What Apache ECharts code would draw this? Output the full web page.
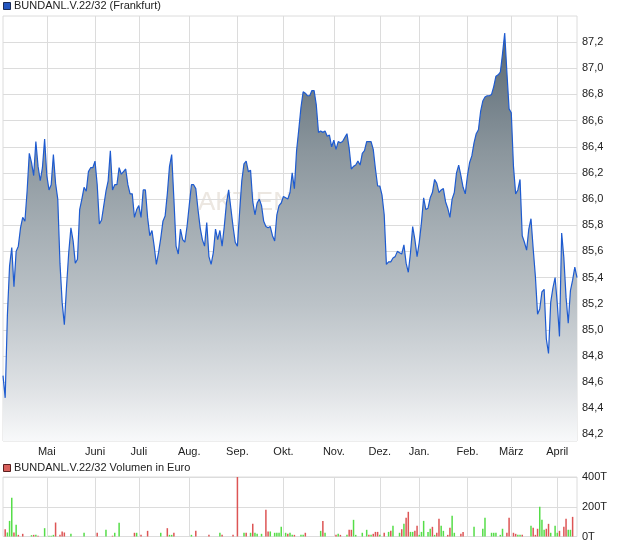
<!DOCTYPE html>
<html><head><meta charset="utf-8">
<script src="https://cdn.jsdelivr.net/npm/echarts@6/dist/echarts.min.js"></script>
<style>html,body{margin:0;padding:0;background:#fff}#c{width:620px;height:546px}</style>
</head><body><div id="c"></div>
<script>
// ---- categories: Frankfurt trading days ----
const startDate = '2024-04-03';
const endDate = '2025-04-14';
const holidays = ['2024-05-01','2024-12-24','2024-12-25','2024-12-26','2024-12-31','2025-01-01'];
const monthNames = ['Jan.','Feb.','März','April','Mai','Juni','Juli','Aug.','Sep.','Okt.','Nov.','Dez.'];

// ---- price series (closing price) ----
const prices = [
84.65,84.48,85.11,85.49,85.63,85.33,85.60,85.64,85.78,85.86,
85.83,86.06,86.35,86.28,86.18,86.44,86.25,86.14,86.24,86.46,
86.18,86.07,86.11,86.34,86.12,86.00,85.51,85.21,85.04,85.33,
85.59,85.78,85.68,85.51,85.54,85.92,86.00,86.09,86.06,86.21,
86.24,86.24,86.29,86.11,85.81,85.84,85.95,86.06,86.14,86.37,
86.07,86.11,86.11,86.24,86.19,86.21,86.23,86.11,86.04,86.04,
85.86,85.92,85.95,85.86,86.07,86.07,85.86,85.72,85.76,85.64,
85.50,85.59,85.70,85.83,85.87,86.04,86.25,86.34,86.00,85.64,
85.58,85.77,85.69,85.67,85.79,85.95,86.11,86.11,86.08,85.92,
85.78,85.69,85.64,85.82,85.56,85.50,85.59,85.77,85.69,85.76,
85.64,85.79,85.97,86.07,85.93,85.79,85.67,85.64,85.90,86.14,
86.27,86.29,86.21,86.22,85.98,85.88,85.97,86.00,85.95,85.83,
85.79,85.78,85.79,85.72,85.68,85.88,85.95,85.97,86.02,86.01,
86.00,86.05,86.20,86.08,86.37,86.53,86.70,86.82,86.81,86.79,
86.79,86.83,86.83,86.72,86.51,86.52,86.51,86.52,86.48,86.49,
86.40,86.45,86.38,86.44,86.43,86.44,86.47,86.50,86.39,86.23,
86.25,86.26,86.29,86.26,86.35,86.37,86.44,86.44,86.44,86.38,
86.23,86.10,86.10,86.03,85.88,85.50,85.52,85.52,85.55,85.56,
85.60,85.59,85.58,85.65,85.51,85.44,85.59,85.79,85.69,85.56,
85.67,85.82,86.01,85.92,85.93,86.01,86.05,86.15,86.12,86.05,
86.07,86.08,85.98,85.93,85.86,86.00,86.05,86.20,86.26,86.18,
86.09,86.04,86.18,86.28,86.33,86.43,86.50,86.53,86.67,86.75,
86.78,86.79,86.79,86.80,86.86,86.94,86.95,86.97,87.11,87.27,
86.97,86.69,86.66,86.25,86.04,86.07,86.15,85.72,85.67,85.61,
85.77,85.85,85.62,85.41,85.12,85.16,85.29,85.31,84.93,84.82,
85.21,85.32,85.40,85.20,84.95,85.74,85.55,85.25,85.05,85.30,
85.38,85.48,85.40
];

// ---- volume in thousand euro: [trading-day index, volume] ----
const volumeUp = [
[2,27],[3,105],[4,260],[6,79],[13,9],[15,11],[19,56],[21,5],[22,5],[23,11],
[31,18],[37,25],[47,45],[51,25],[53,92],[61,25],[72,25],[76,11],[77,11],[86,11],
[99,25],[110,25],[113,25],[115,25],[116,18],[118,18],[122,34],[124,25],[125,25],[126,25],
[127,65],[129,25],[131,25],[132,11],[136,11],[137,11],[145,38],[147,25],[153,18],[157,11],
[160,112],[161,11],[164,25],[166,45],[168,11],[172,11],[176,31],[178,72],[181,25],[183,85],
[186,31],[187,31],[190,11],[191,31],[192,105],[194,31],[195,52],[197,11],[200,72],[201,38],
[205,139],[206,25],[215,65],[219,52],[220,126],[223,25],[224,25],[225,25],[227,11],[228,52],
[235,11],[236,11],[241,72],[245,200],[246,112],[247,45],[250,25],[252,72],[253,25],[258,45],[259,45]
];
const volumeDown = [
[1,49],[5,27],[7,11],[9,18],[14,11],[16,5],[24,94],[26,11],[27,34],[28,27],
[43,25],[50,5],[60,25],[63,11],[66,38],[75,56],[78,25],[88,38],[94,11],[100,11],
[105,11],[107,400],[111,25],[114,85],[120,180],[121,34],[130,18],[133,11],[138,25],[146,105],
[152,11],[154,11],[158,45],[159,45],[167,11],[169,18],[170,31],[171,31],[174,25],[177,38],
[182,49],[184,126],[185,166],[188,38],[189,72],[196,65],[198,25],[199,119],[203,11],[204,58],
[209,18],[210,31],[230,25],[231,126],[233,25],[234,18],[237,11],[242,58],[243,11],[244,52],
[248,52],[249,85],[254,38],[256,65],[257,119],[260,132]
];

const priceTicks = [84.2,84.4,84.6,84.8,85.0,85.2,85.4,85.6,85.8,86.0,86.2,86.4,86.6,86.8,87.0,87.2];
const volumeTicks = [0,200,400];

// ---- build trading-day categories ----
function buildDates() {
  const out = [];
  const hol = new Set(holidays);
  const d = new Date(startDate + 'T00:00:00Z');
  const end = new Date(endDate + 'T00:00:00Z');
  while (d <= end) {
    const wd = d.getUTCDay();
    const s = d.toISOString().slice(0, 10);
    if (wd !== 0 && wd !== 6 && !hol.has(s)) out.push(s);
    d.setUTCDate(d.getUTCDate() + 1);
  }
  return out;
}
const dates = buildDates();
const monthStarts = new Set();
for (let i = 1; i < dates.length; i++) {
  if (dates[i].slice(5, 7) !== dates[i - 1].slice(5, 7)) monthStarts.add(i);
}
const isMonthStart = (i) => monthStarts.has(i);

const FONT = "'Liberation Sans', Arial, sans-serif";
const GRID_COLOR = '#dcdcdc';

const chart = echarts.init(document.getElementById('c'), null, {renderer: 'canvas'});
chart.setOption({
  animation: false,
  backgroundColor: '#ffffff',
  textStyle: {fontFamily: FONT},
  grid: [
    {left: 3, right: 43, top: 16, height: 425, show: true, borderColor: GRID_COLOR, borderWidth: 1, backgroundColor: 'transparent'},
    {left: 3, right: 43, top: 477, height: 59.5, show: true, borderColor: GRID_COLOR, borderWidth: 1, backgroundColor: 'transparent'}
  ],
  xAxis: [
    {
      type: 'category', gridIndex: 0, data: dates, boundaryGap: false,
      axisLine: {show: false}, axisTick: {show: false},
      axisLabel: {
        interval: (i) => isMonthStart(i),
        formatter: (v) => monthNames[parseInt(v.slice(5, 7), 10) - 1],
        color: '#222', fontSize: 11, fontFamily: FONT, margin: 5
      },
      splitLine: {show: true, interval: (i) => isMonthStart(i), lineStyle: {color: GRID_COLOR, width: 1}}
    },
    {
      type: 'category', gridIndex: 1, data: dates, boundaryGap: false,
      axisLine: {show: false}, axisTick: {show: false}, axisLabel: {show: false},
      splitLine: {show: true, interval: (i) => isMonthStart(i), lineStyle: {color: GRID_COLOR, width: 1}}
    }
  ],
  yAxis: [
    {
      type: 'value', gridIndex: 0, position: 'right', min: 84.15, max: 87.4, scale: true,
      axisLine: {show: false},
      axisTick: {show: false, customValues: priceTicks},
      axisLabel: {
        customValues: priceTicks,
        formatter: (v) => v.toFixed(1).replace('.', ','),
        color: '#222', fontSize: 11, fontFamily: FONT, margin: 5
      },
      splitLine: {show: true, lineStyle: {color: GRID_COLOR, width: 1}}
    },
    {
      type: 'value', gridIndex: 1, position: 'right', min: 0, max: 400, interval: 200,
      axisLine: {show: false}, axisTick: {show: false},
      axisLabel: {formatter: (v) => v + 'T', color: '#222', fontSize: 11, fontFamily: FONT, margin: 5},
      splitLine: {show: true, lineStyle: {color: GRID_COLOR, width: 1}}
    }
  ],
  graphic: [
    {type: 'text', left: 198, top: 190, z: 0, silent: true,
     style: {text: 'AKTIEN', font: "26px 'Liberation Sans', Arial, sans-serif", fill: '#ece7e1'}},
    {type: 'rect', left: 3, top: 2, z: 10, shape: {width: 7, height: 7},
     style: {fill: '#2356c0', stroke: '#1a2a55', lineWidth: 1}},
    {type: 'text', left: 14, top: 0, z: 10,
     style: {text: 'BUNDANL.V.22/32 (Frankfurt)', font: "11px 'Liberation Sans', Arial, sans-serif", fill: '#222'}},
    {type: 'rect', left: 3, top: 464, z: 10, shape: {width: 7, height: 7},
     style: {fill: '#d9605c', stroke: '#5a2020', lineWidth: 1}},
    {type: 'text', left: 14, top: 462, z: 10,
     style: {text: 'BUNDANL.V.22/32 Volumen in Euro', font: "11px 'Liberation Sans', Arial, sans-serif", fill: '#222'}}
  ],
  series: [
    {
      type: 'line', xAxisIndex: 0, yAxisIndex: 0, data: prices, z: 3,
      showSymbol: false, symbol: 'none', silent: true, smooth: false,
      lineStyle: {color: '#1e5bd0', width: 1.2},
      areaStyle: {
        opacity: 1,
        color: {
          type: 'linear', x: 0, y: 16, x2: 0, y2: 441, global: true,
          colorStops: [
            {offset: 0, color: '#4d5c67'},
            {offset: 0.12, color: '#66747e'},
            {offset: 0.32, color: '#8b969d'},
            {offset: 0.5, color: '#a5aeb4'},
            {offset: 0.68, color: '#bcc3c8'},
            {offset: 0.88, color: '#dfe2e5'},
            {offset: 1, color: '#f8f9fa'}
          ]
        }
      }
    },
    {
      type: 'bar', xAxisIndex: 1, yAxisIndex: 1, data: volumeUp, barWidth: 1.5, barGap: '-100%',
      itemStyle: {color: '#55dd48'}, silent: true
    },
    {
      type: 'bar', xAxisIndex: 1, yAxisIndex: 1, data: volumeDown, barWidth: 1.5, barGap: '-100%',
      itemStyle: {color: '#dd5555'}, silent: true
    }
  ]
});
</script>
</body></html>
